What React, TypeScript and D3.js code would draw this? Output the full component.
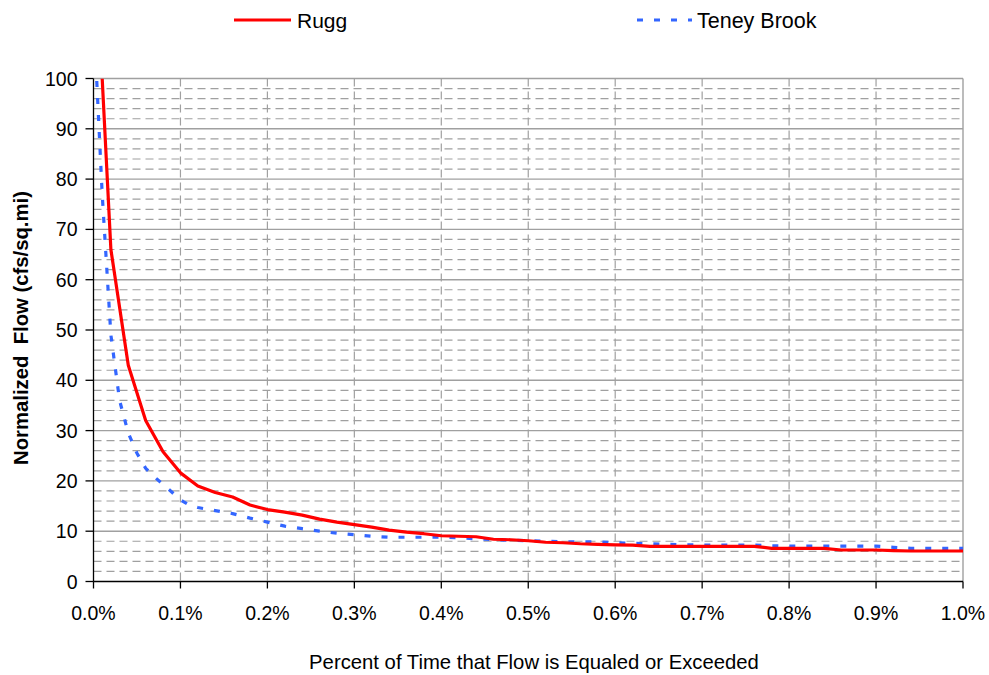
import React from "react";
import * as d3 from "d3";

const ruggX = [0.01, 0.02, 0.04, 0.06, 0.08, 0.10, 0.12, 0.14, 0.16, 0.18, 0.20, 0.22, 0.24, 0.26, 0.28, 0.30, 0.32, 0.34, 0.36, 0.38, 0.40, 0.42, 0.44, 0.46, 0.48, 0.50, 0.52, 0.54, 0.56, 0.58, 0.60, 0.62, 0.64, 0.66, 0.68, 0.70, 0.72, 0.74, 0.76, 0.78, 0.80, 0.82, 0.84, 0.86, 0.88, 0.90, 0.92, 0.94, 0.96, 0.98, 1.00];
const ruggY = [100, 66, 43, 32, 25.8, 21.6, 19.0, 17.7, 16.8, 15.2, 14.3, 13.8, 13.2, 12.4, 11.8, 11.3, 10.8, 10.2, 9.8, 9.5, 9.1, 9.0, 8.9, 8.4, 8.3, 8.1, 7.8, 7.7, 7.5, 7.4, 7.3, 7.25, 7.0, 7.0, 7.0, 7.0, 7.0, 7.0, 7.0, 6.6, 6.6, 6.6, 6.6, 6.26, 6.26, 6.26, 6.15, 6.06, 6.06, 6.06, 6.06];

const teneyX = [0.00, 0.01, 0.02, 0.03, 0.04, 0.05, 0.06, 0.07, 0.08, 0.09, 0.10, 0.11, 0.12, 0.14, 0.16, 0.18, 0.20, 0.22, 0.24, 0.26, 0.28, 0.30, 0.32, 0.34, 0.36, 0.38, 0.40, 0.42, 0.44, 0.46, 0.48, 0.50, 0.52, 0.54, 0.56, 0.58, 0.60, 0.62, 0.64, 0.66, 0.68, 0.70, 0.72, 0.74, 0.76, 0.78, 0.80, 0.82, 0.84, 0.86, 0.88, 0.90, 0.92, 0.94, 0.96, 0.98, 1.00];
const teneyY = [113, 77, 49, 36, 29.5, 25.5, 22.5, 20.8, 19.3, 17.8, 16.2, 15.2, 14.7, 14.1, 13.5, 12.6, 11.8, 11.0, 10.5, 10.0, 9.6, 9.3, 9.0, 8.8, 8.8, 8.8, 8.8, 8.7, 8.5, 8.3, 8.2, 8.1, 8.0, 7.9, 7.9, 7.9, 7.7, 7.6, 7.5, 7.4, 7.3, 7.25, 7.25, 7.25, 7.25, 7.1, 7.05, 7.05, 7.05, 7.05, 7.05, 7.05, 6.8, 6.6, 6.6, 6.6, 6.6];

const xTicks = [0, 0.1, 0.2, 0.3, 0.4, 0.5, 0.6, 0.7, 0.8, 0.9, 1.0];
const yTicks = [0, 10, 20, 30, 40, 50, 60, 70, 80, 90, 100];
const yMinor = d3.range(2, 100, 2).filter((v) => v % 10 !== 0);

const seriesNames = ["Rugg", "Teney Brook"];
const xTitle = "Percent of Time that Flow is Equaled or Exceeded";
const yTitle = "Normalized  Flow (cfs/sq.mi)";

const W = 989;
const H = 675;
const L = 93.5;
const R = 963;
const T = 78.5;
const B = 581.5;
const FONT = "'Liberation Sans', Arial, sans-serif";
const GRID = "#a0a0a0";
const RED = "#ff0000";
const BLUE = "#3366ff";

export default function App() {
  const x = d3.scaleLinear().domain([0, 1]).range([L, R]);
  const y = d3.scaleLinear().domain([0, 100]).range([B, T]);
  const line = d3
    .line<[number, number]>()
    .x((d) => x(d[0]))
    .y((d) => y(d[1]));
  const rugg = ruggX.map((v, i) => [v, ruggY[i]] as [number, number]);
  const teney = teneyX.map((v, i) => [v, teneyY[i]] as [number, number]);

  return (
    <div style={{ position: "absolute", left: 0, top: 0 }}>
      <svg width={W} height={H} style={{ display: "block", background: "#fff" }} fontFamily={FONT}>
        <defs>
          <clipPath id="plotClip">
            <rect x={L} y={T} width={R - L} height={B - T} />
          </clipPath>
        </defs>
        <rect x={0} y={0} width={W} height={H} fill="#fff" />
        {yMinor.map((v) => (
          <line key={"ym" + v} x1={L} x2={R} y1={y(v)} y2={y(v)} stroke={GRID} strokeWidth={1.2} strokeDasharray="8,5" />
        ))}
        {xTicks.slice(1, -1).map((v) => (
          <line key={"xv" + v} x1={x(v)} x2={x(v)} y1={T} y2={B} stroke={GRID} strokeWidth={1.2} strokeDasharray="8,5" />
        ))}
        {yTicks.slice(1).map((v) => (
          <line key={"yM" + v} x1={L} x2={R} y1={y(v)} y2={y(v)} stroke={GRID} strokeWidth={1.4} />
        ))}
        <line x1={R} x2={R} y1={T} y2={B} stroke={GRID} strokeWidth={1.4} />
        <g clipPath="url(#plotClip)">
          <path d={line(teney) || ""} fill="none" stroke={BLUE} strokeWidth={3.2} strokeDasharray="6,11" />
          <path d={line(rugg) || ""} fill="none" stroke={RED} strokeWidth={3.2} strokeLinejoin="round" />
        </g>
        <line x1={L} x2={L} y1={T} y2={B} stroke="#000" strokeWidth={1.3} />
        <line x1={L} x2={R} y1={B} y2={B} stroke="#000" strokeWidth={1.3} />
        {yTicks.map((v) => (
          <g key={"yt" + v}>
            <line x1={L - 8} x2={L} y1={y(v)} y2={y(v)} stroke="#000" strokeWidth={1.3} />
            <text x={L - 16} y={y(v)} dy="0.36em" textAnchor="end" fontSize={19.5} fill="#000">
              {v}
            </text>
          </g>
        ))}
        {xTicks.map((v) => (
          <g key={"xt" + v}>
            <line x1={x(v)} x2={x(v)} y1={B} y2={B + 7} stroke="#000" strokeWidth={1.3} />
            <text x={x(v)} y={620} textAnchor="middle" fontSize={19.5} fill="#000">
              {d3.format(".1f")(v) + "%"}
            </text>
          </g>
        ))}
        <text x={534} y={669} textAnchor="middle" fontSize={20.3} fill="#000">
          {xTitle}
        </text>
        <text
          transform={`translate(28,328) rotate(-90)`}
          textAnchor="middle"
          fontSize={20.3}
          fontWeight="bold"
          fill="#000"
          style={{ whiteSpace: "pre" }}
        >
          {yTitle}
        </text>
        <line x1={234} x2={291} y1={20} y2={20} stroke={RED} strokeWidth={3.2} />
        <text x={297} y={27.5} fontSize={21} fill="#000">
          {seriesNames[0]}
        </text>
        <line x1={637} x2={692} y1={20} y2={20} stroke={BLUE} strokeWidth={3.2} strokeDasharray="6,11" />
        <text x={697} y={27.5} fontSize={21.5} fill="#000">
          {seriesNames[1]}
        </text>
      </svg>
    </div>
  );
}
